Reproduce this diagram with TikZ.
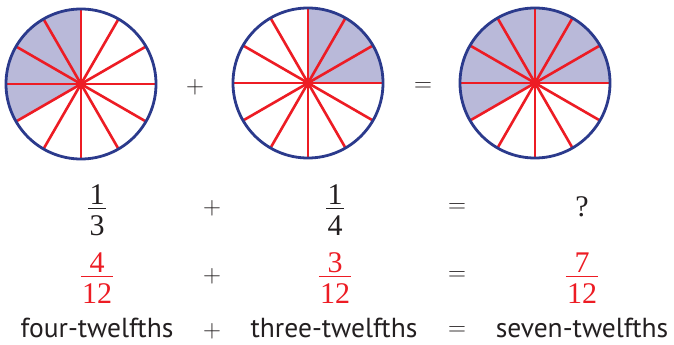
\documentclass[tikz,border=0pt]{standalone}
\usepackage{fontspec}
\setmainfont{Liberation Serif}
\setsansfont{PT Sans}
\definecolor{shadefill}{HTML}{B9B9D9}
\definecolor{spokecol}{HTML}{ED1C24}
\definecolor{rimcol}{HTML}{2B3A8C}
\definecolor{ink}{HTML}{231F20}
\tikzset{
  spokeline/.style={draw=spokecol, line width=2.6pt},
  rimline/.style={circle, draw=rimcol, line width=2.8pt, minimum size=150pt, inner sep=0pt},
  sector/.style={fill=shadefill, draw=none},
  numtxt/.style={inner sep=0pt, anchor=base, font=\fontsize{30}{30}\selectfont},
  wordtxt/.style={inner sep=0pt, anchor=base, text=ink, font=\sffamily\fontsize{27.5}{27.5}\selectfont},
  opsmall/.style={inner sep=0pt, text=ink, font=\fontsize{26}{26}\selectfont},
  opbig/.style={inner sep=0pt, text=ink, font=\fontsize{30}{30}\selectfont},
  barline/.style={line width=1.3pt},
}
\newcommand{\mypie}[4]{% name, center, start, end
  \coordinate (#1) at #2;
  \fill[sector] (#1) -- ++(#3:75pt) arc[start angle=#3, end angle=#4, radius=75pt] -- cycle;
  \foreach \k in {0,...,11} \draw[spokeline] (#1) -- ++(\k*30:75pt);
  \node[rimline] (#1rim) at (#1) {};
}
\newcommand{\myfrac}[6]{% name, x, num, den, color, numbase y
  \node[numtxt, text=#5] (#1n) at (#2,#6) {#3};
  \node[numtxt, text=#5] (#1d) at (#2,#6+31) {#4};
  \coordinate (#1bl) at ([xshift=-1pt]#1d.west |- 0,#6+4.5);
  \coordinate (#1br) at ([xshift=1pt]#1d.east |- 0,#6+4.5);
  \draw[barline, #5] (#1bl) -- (#1br);
}
\begin{document}
\begin{tikzpicture}[x=1pt,y=-1pt]
\useasboundingbox (0,0) rectangle (674,345);
\fill[white] (0,0) rectangle (674,345);
\mypie{pa}{(81,84)}{90}{210}
\mypie{pb}{(308,83)}{0}{90}
\mypie{pc}{(535,83)}{0}{210}
\node[opsmall] (plusA) at (195,87) {$+$};
\node[opsmall] (eqA) at (423,87) {$=$};
% row 2
\myfrac{fa}{97}{1}{3}{ink}{204}
\node[opbig] (plusB) at (212,208) {$+$};
\myfrac{fb}{335}{1}{4}{ink}{204}
\node[opbig] (eqB) at (457,208) {$=$};
\node[numtxt, text=ink] (qm) at (582,216) {?};
% row 3
\myfrac{fc}{97}{4}{12}{spokecol}{272}
\node[opbig] (plusC) at (212,276) {$+$};
\myfrac{fd}{335}{3}{12}{spokecol}{272}
\node[opbig] (eqC) at (457,276) {$=$};
\myfrac{fe}{582}{7}{12}{spokecol}{272}
% row 4
\node[wordtxt] (wa) at (97,337) {four-twelfths};
\node[opbig] (plusD) at (212,331) {$+$};
\node[wordtxt] (wb) at (334,337) {three-twelfths};
\node[opbig] (eqD) at (457,331) {$=$};
\node[wordtxt] (wc) at (582,337) {seven-twelfths};
\end{tikzpicture}
\end{document}
